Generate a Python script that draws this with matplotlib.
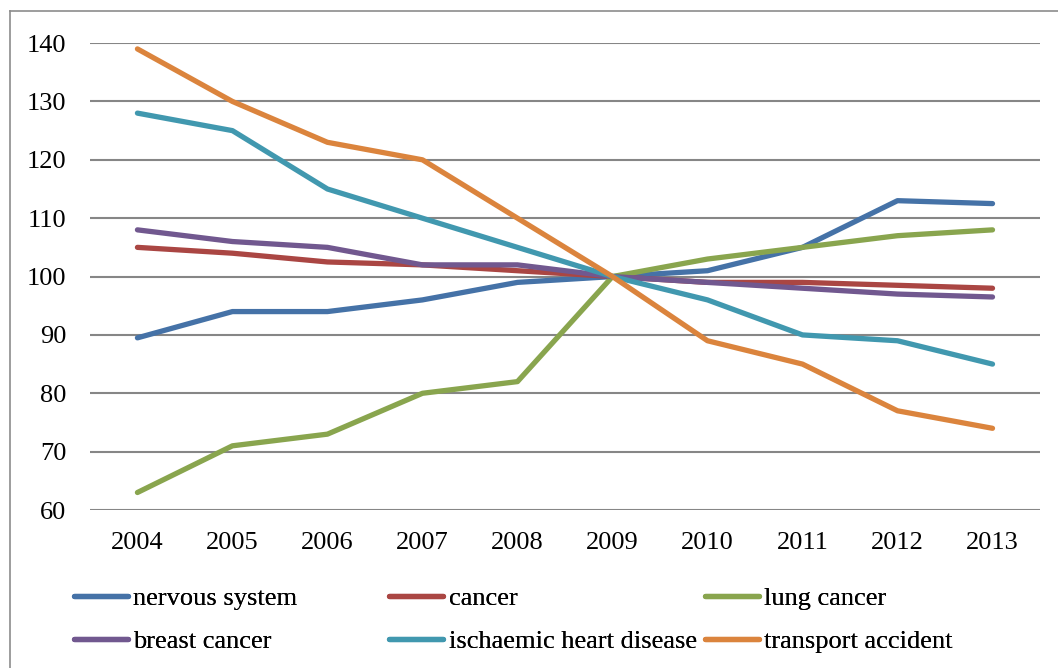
import matplotlib.pyplot as plt
from matplotlib.lines import Line2D

years = ["2004", "2005", "2006", "2007", "2008", "2009", "2010", "2011", "2012", "2013"]

nervous_system = [89.5, 94, 94, 96, 99, 100, 101, 105, 113, 112.5]
cancer = [105, 104, 102.5, 102, 101, 100, 99, 99, 98.5, 98]
lung_cancer = [63, 71, 73, 80, 82, 100, 103, 105, 107, 108]
breast_cancer = [108, 106, 105, 102, 102, 100, 99, 98, 97, 96.5]
ischaemic_heart = [128, 125, 115, 110, 105, 100, 96, 90, 89, 85]
transport_accident = [139, 130, 123, 120, 110, 100, 89, 85, 77, 74]

series = [
    ("nervous system", nervous_system, "#4572A7"),
    ("cancer", cancer, "#AA4643"),
    ("lung cancer", lung_cancer, "#89A54E"),
    ("breast cancer", breast_cancer, "#71588F"),
    ("ischaemic heart disease", ischaemic_heart, "#4198AF"),
    ("transport accident", transport_accident, "#DB843D"),
]

plt.rcParams["font.family"] = ["Liberation Serif", "DejaVu Serif"]
FS = 19

fig = plt.figure(figsize=(10.58, 6.68), dpi=100)
ax = fig.add_axes([0.085, 0.2365, 0.898, 0.699])

x = range(len(years))
handles = {}
for name, vals, color in series:
    (ln,) = ax.plot(x, vals, color=color, linewidth=3.8, solid_capstyle="round",
                    solid_joinstyle="round", label=name)
    handles[name] = ln

ax.set_xlim(-0.5, len(years) - 0.5)
ax.set_ylim(60, 140)
ax.set_yticks(range(60, 141, 10))
ax.set_xticks(list(x))
ax.set_xticklabels(years)
ax.tick_params(length=0, labelsize=FS, colors="black")
ax.tick_params(axis="y", pad=17)
ax.tick_params(axis="x", pad=16)
ax.yaxis.grid(True, color="#868686", linewidth=1.5)
ax.set_axisbelow(True)
for s in ax.spines.values():
    s.set_visible(False)

# legend: three equally spaced columns, read row-wise
columns = [
    (0.070, ["nervous system", "breast cancer"]),
    (0.368, ["cancer", "ischaemic heart disease"]),
    (0.666, ["lung cancer", "transport accident"]),
]
for xpos, names in columns:
    leg = fig.legend([handles[n] for n in names], names, loc="upper left",
                     bbox_to_anchor=(xpos, 0.122), frameon=False,
                     fontsize=FS, handlelength=2.05, handletextpad=0.2,
                     labelspacing=0.75, borderpad=0, borderaxespad=0)
    fig.add_artist(leg)

# outer chart border (top and left visible)
fig.add_artist(Line2D([0.0095, 1.0], [0.9835, 0.9835], transform=fig.transFigure,
                      color="#8c8c8c", linewidth=1.2))
fig.add_artist(Line2D([0.0095, 0.0095], [0.0, 0.9835], transform=fig.transFigure,
                      color="#8c8c8c", linewidth=1.2))

fig.savefig("out.png", dpi=100)
